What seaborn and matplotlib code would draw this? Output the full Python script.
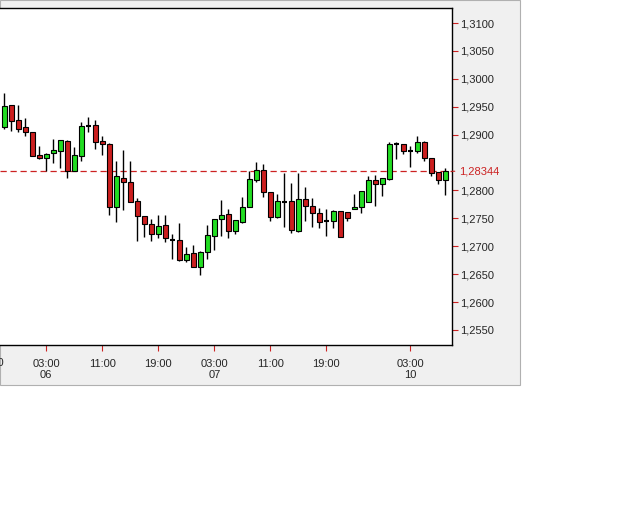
import matplotlib
matplotlib.use("Agg")
import matplotlib.pyplot as plt
import seaborn as sns
import numpy as np
from matplotlib.patches import Rectangle

sns.set_theme(style="white")
plt.rcParams['font.family'] = ['Liberation Sans', 'DejaVu Sans']

# hourly candles
opens = [1.2913, 1.2953, 1.2926, 1.2913, 1.2905, 1.2864, 1.2859, 1.2867, 1.2871, 1.2889,
         1.2835, 1.2862, 1.2916, 1.2917, 1.2888, 1.2883, 1.2771, 1.2822, 1.2815, 1.2781,
         1.2754, 1.2739, 1.2722, 1.2738, 1.2711, 1.2711, 1.2676, 1.2687, 1.2663, 1.2690,
         1.2719, 1.2748, 1.2757, 1.2728, 1.2744, 1.2770, 1.2819, 1.2836, 1.2797, 1.2753,
         1.2780, 1.2781, 1.2728, 1.2784, 1.2773, 1.2759, 1.2746, 1.2746, 1.2763, 1.2761,
         1.2766, 1.2770, 1.2780, 1.2819, 1.2812, 1.2821, 1.2883, 1.2883, 1.2871, 1.2871,
         1.2886, 1.2858, 1.2833, 1.2819]
highs = [1.2974, 1.2953, 1.2953, 1.2929, 1.2905, 1.2880, 1.2868, 1.2892, 1.2891, 1.2891,
         1.2877, 1.2923, 1.2931, 1.2926, 1.2898, 1.2885, 1.2853, 1.2873, 1.2853, 1.2786,
         1.2754, 1.2748, 1.2756, 1.2756, 1.2722, 1.2741, 1.2699, 1.2702, 1.2691, 1.2738,
         1.2749, 1.2783, 1.2766, 1.2747, 1.2788, 1.2834, 1.2851, 1.2848, 1.2797, 1.2794,
         1.2832, 1.2813, 1.2832, 1.2807, 1.2786, 1.2768, 1.2766, 1.2765, 1.2763, 1.2761,
         1.2794, 1.2799, 1.2825, 1.2828, 1.2822, 1.2886, 1.2886, 1.2883, 1.2880, 1.2898,
         1.2889, 1.2858, 1.2833, 1.2840]
lows = [1.2910, 1.2907, 1.2905, 1.2898, 1.2861, 1.2856, 1.2835, 1.2850, 1.2841, 1.2823,
        1.2835, 1.2853, 1.2904, 1.2874, 1.2864, 1.2756, 1.2744, 1.2765, 1.2780, 1.2710,
        1.2717, 1.2710, 1.2714, 1.2707, 1.2677, 1.2673, 1.2671, 1.2662, 1.2649, 1.2678,
        1.2693, 1.2719, 1.2714, 1.2722, 1.2742, 1.2770, 1.2816, 1.2789, 1.2746, 1.2751,
        1.2735, 1.2724, 1.2726, 1.2745, 1.2735, 1.2732, 1.2719, 1.2732, 1.2716, 1.2746,
        1.2766, 1.2759, 1.2780, 1.2772, 1.2790, 1.2819, 1.2856, 1.2865, 1.2842, 1.2867,
        1.2852, 1.2825, 1.2811, 1.2791]
closes = [1.2951, 1.2925, 1.2911, 1.2904, 1.2862, 1.2859, 1.2865, 1.2873, 1.2891, 1.2835,
          1.2864, 1.2915, 1.2916, 1.2886, 1.2883, 1.2771, 1.2826, 1.2816, 1.2780, 1.2755,
          1.2740, 1.2722, 1.2736, 1.2714, 1.2711, 1.2676, 1.2686, 1.2662, 1.2690, 1.2720,
          1.2749, 1.2756, 1.2728, 1.2747, 1.2770, 1.2820, 1.2836, 1.2797, 1.2753, 1.2781,
          1.2780, 1.2730, 1.2784, 1.2773, 1.2759, 1.2744, 1.2746, 1.2764, 1.2717, 1.2751,
          1.2770, 1.2799, 1.2819, 1.2811, 1.2822, 1.2884, 1.2883, 1.2871, 1.2871, 1.2886,
          1.2858, 1.2831, 1.2819, 1.2835]
last_price = 1.28344

tick_pos = [6, 14, 22, 30, 38, 46, 58]
tick_labels = ["03:00\n06", "11:00", "19:00", "03:00\n07", "11:00", "19:00", "03:00\n10"]
y_ticks = [1.2550, 1.2600, 1.2650, 1.2700, 1.2750, 1.2800, 1.2900, 1.2950, 1.3000, 1.3050, 1.3100]

fig = plt.figure(figsize=(6.4, 5.12), dpi=100, facecolor="white")
fig.patches.append(Rectangle((0, 1 - 385 / 512), 520 / 640, 385 / 512, transform=fig.transFigure,
                             facecolor="#f0f0f0", edgecolor="#b0b0b0", linewidth=0.8, zorder=-10))
ax = fig.add_axes([0, 1 - 345 / 512, 452 / 640, 337 / 512])
ax.set_facecolor("white")

x = np.arange(len(opens))
o = np.array(opens); c = np.array(closes)
ax.vlines(x, lows, highs, color="black", linewidth=1, zorder=2)
up = c > o
down = c < o
flat = c == o
ax.bar(x[up], (c - o)[up], bottom=o[up], width=0.7, color="#22dd22", edgecolor="black", linewidth=0.8, zorder=3)
ax.bar(x[down], (c - o)[down], bottom=o[down], width=0.7, color="#cc1f1f", edgecolor="black", linewidth=0.8, zorder=3)
ax.hlines(o[flat], x[flat] - 0.35, x[flat] + 0.35, color="black", linewidth=1.5, zorder=3)

ax.axhline(last_price, color="#cc2222", linestyle=(0, (5, 3)), linewidth=0.9, zorder=1)
ax.annotate("1,28344", xy=(1.0, last_price), xycoords=("axes fraction", "data"),
            xytext=(5, 0), textcoords="offset points", color="#cc2222", fontsize=8, va="center")
ax.annotate("", xy=(1.0, last_price), xycoords=("axes fraction", "data"),
            xytext=(4, 0), textcoords="offset points",
            arrowprops=dict(arrowstyle="-", color="#cc2222", lw=0.8))
# partly hidden 19:00 label at the left edge
ax.annotate("19:00", xy=(-2, 0), xycoords=("data", "axes fraction"), xytext=(0, -9),
            textcoords="offset points", ha="center", va="top", fontsize=8, annotation_clip=False)

ax.yaxis.tick_right()
ax.set_yticks(y_ticks)
ax.set_yticklabels([f"{v:.4f}".replace(".", ",") for v in y_ticks], fontsize=8)
ax.set_xticks(tick_pos)
ax.set_xticklabels(tick_labels, fontsize=8, linespacing=1.1)
ax.tick_params(axis="both", which="both", length=4, width=0.8, color="#cc2222", pad=2,
               bottom=True, right=True, left=False)
ax.tick_params(axis="x", pad=6)
for s in ["top", "right", "bottom"]:
    ax.spines[s].set_visible(True)
    ax.spines[s].set_color("black")
    ax.spines[s].set_linewidth(1)
ax.spines["left"].set_visible(False)

ax.set_xlim(-0.61, 63.96)
ax.set_ylim(1.2523, 1.3127)

fig.savefig("out.png", dpi=100)
